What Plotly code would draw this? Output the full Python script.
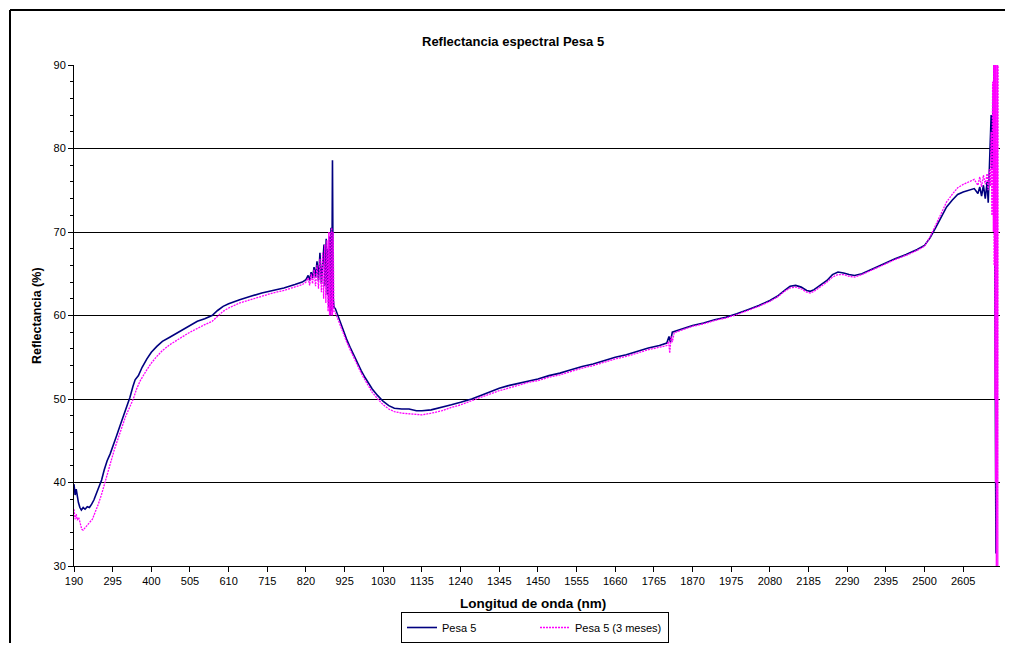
import plotly.graph_objects as go

# ---- data ----
wl_p5 = [190, 193, 196, 199, 202, 206, 210, 215, 220, 226, 232, 238, 244, 250, 258, 265, 272, 280, 288, 295,
         305, 315, 325, 335, 342, 350, 356, 365, 375, 388, 400, 415, 430, 450, 470, 490, 505, 525, 545, 565,
         580, 595, 610, 640, 670, 700, 730, 760, 790, 810, 820, 826, 830, 834, 838, 842, 846, 850, 854, 858,
         862, 866, 869, 872, 875, 878, 880, 882, 884, 886, 888, 890, 892, 894, 896, 900, 910, 920, 930, 940,
         950, 960, 970, 980, 990, 1000, 1015, 1030, 1045, 1060, 1080, 1100, 1120, 1135, 1160, 1190, 1215, 1240, 1270, 1300,
         1325, 1345, 1370, 1400, 1425, 1450, 1480, 1510, 1540, 1570, 1600, 1630, 1660, 1690, 1720, 1750, 1780, 1800, 1806, 1810,
         1815, 1830, 1850, 1870, 1900, 1930, 1960, 1990, 2020, 2050, 2080, 2100, 2120, 2135, 2150, 2165, 2180, 2190, 2200, 2217,
         2235, 2250, 2265, 2280, 2295, 2310, 2330, 2360, 2395, 2420, 2450, 2480, 2500, 2515, 2530, 2545, 2560, 2575, 2590, 2605,
         2620, 2635, 2645, 2650, 2655, 2660, 2665, 2670, 2673, 2676, 2679, 2681, 2683, 2685, 2687, 2689, 2691, 2692, 2693, 2694,
         2695]
r_p5 = [39.8, 38.5, 39.2, 38.0, 37.6, 37.0, 36.7, 37.0, 36.8, 37.1, 37.0, 37.4, 37.9, 38.6, 39.5, 40.3, 41.5, 42.6, 43.4, 44.2,
        45.5, 46.8, 48.0, 49.3, 50.2, 51.5, 52.3, 52.8, 53.8, 54.8, 55.6, 56.3, 56.9, 57.4, 57.9, 58.4, 58.8, 59.3, 59.6, 60.0,
        60.6, 61.1, 61.4, 61.9, 62.3, 62.7, 63.0, 63.3, 63.7, 64.0, 64.3, 64.8, 64.2, 65.2, 64.5, 65.8, 64.6, 66.5, 64.2, 67.5,
        63.8, 66.0, 68.5, 63.5, 69.2, 62.5, 68.0, 61.0, 69.5, 60.0, 70.5, 60.5, 78.6, 62.0, 61.0, 60.8, 59.6, 58.3, 57.2, 56.2,
        55.2, 54.3, 53.4, 52.6, 51.9, 51.2, 50.4, 49.7, 49.2, 48.9, 48.8, 48.8, 48.6, 48.6, 48.7, 49.0, 49.3, 49.6, 50.0, 50.5,
        50.9, 51.3, 51.6, 51.9, 52.2, 52.4, 52.8, 53.1, 53.5, 53.9, 54.2, 54.6, 55.0, 55.3, 55.7, 56.1, 56.4, 56.7, 57.5, 56.8,
        58.0, 58.2, 58.5, 58.8, 59.1, 59.5, 59.8, 60.2, 60.7, 61.2, 61.8, 62.3, 63.0, 63.5, 63.6, 63.4, 63.0, 62.9, 63.1, 63.6,
        64.2, 64.9, 65.2, 65.1, 64.9, 64.8, 65.0, 65.6, 66.3, 66.8, 67.3, 67.9, 68.4, 69.3, 70.5, 71.8, 73.0, 73.8, 74.5, 74.8,
        75.0, 75.2, 74.6, 75.4, 74.3, 75.6, 74.0, 76.0, 73.5, 77.0, 80.0, 84.0, 77.5, 80.5, 86.0, 90.0, 70.0, 66.0, 45.0, 31.5,
        32.0]

wl_p5m = [190, 193, 196, 199, 203, 207, 211, 215, 220, 226, 232, 240, 248, 256, 265, 274, 282, 290, 300, 310,
          320, 330, 340, 351, 360, 370, 385, 400, 415, 430, 450, 470, 490, 505, 525, 545, 565, 580, 595, 610,
          640, 670, 700, 730, 760, 790, 810, 820, 826, 830, 834, 838, 842, 846, 850, 854, 858, 862, 865, 868,
          871, 874, 877, 880, 882, 884, 886, 888, 890, 892, 894, 896, 900, 910, 920, 930, 940, 950, 960, 970,
          980, 990, 1000, 1015, 1030, 1045, 1060, 1080, 1100, 1120, 1135, 1160, 1190, 1215, 1240, 1270, 1300, 1325, 1345, 1370,
          1400, 1425, 1450, 1480, 1510, 1540, 1570, 1600, 1630, 1660, 1690, 1720, 1750, 1780, 1800, 1805, 1808, 1812, 1815, 1820,
          1830, 1850, 1870, 1900, 1930, 1960, 1990, 2020, 2050, 2080, 2100, 2120, 2135, 2150, 2165, 2180, 2190, 2200, 2217, 2235,
          2250, 2265, 2280, 2295, 2310, 2330, 2360, 2395, 2420, 2450, 2480, 2500, 2515, 2530, 2545, 2560, 2575, 2590, 2605, 2620,
          2635, 2645, 2650, 2655, 2660, 2665, 2670, 2673, 2676, 2679, 2681, 2683, 2685, 2687, 2688, 2689, 2690, 2691, 2692, 2693,
          2694, 2695, 2696, 2697, 2698, 2699, 2700]
r_p5m = [36.8, 35.6, 36.2, 35.5, 35.8, 34.9, 34.4, 34.3, 34.6, 34.9, 35.2, 35.6, 36.4, 37.4, 38.6, 40.0, 41.3, 42.6, 44.0, 45.3,
         46.6, 47.9, 48.9, 50.0, 51.2, 52.2, 53.3, 54.3, 55.1, 55.8, 56.5, 57.1, 57.6, 58.0, 58.5, 58.9, 59.3, 59.9, 60.5, 60.9,
         61.5, 61.9, 62.3, 62.7, 63.0, 63.4, 63.7, 64.0, 64.5, 63.6, 65.0, 63.8, 65.5, 63.5, 66.0, 63.2, 66.8, 62.8, 67.5, 62.0,
         68.5, 61.5, 69.0, 60.5, 70.0, 60.0, 70.0, 60.0, 70.5, 60.0, 70.0, 60.5, 60.3, 59.2, 58.0, 56.9, 55.9, 54.9, 54.0, 53.1,
         52.3, 51.5, 50.8, 50.0, 49.3, 48.8, 48.5, 48.3, 48.2, 48.1, 48.1, 48.3, 48.6, 49.0, 49.3, 49.8, 50.3, 50.7, 51.0, 51.3,
         51.7, 52.0, 52.2, 52.6, 52.9, 53.3, 53.7, 54.0, 54.4, 54.8, 55.1, 55.5, 55.9, 56.2, 56.4, 56.9, 55.5, 57.5, 56.8, 57.9,
         58.1, 58.4, 58.7, 59.0, 59.4, 59.7, 60.1, 60.6, 61.1, 61.7, 62.2, 62.9, 63.3, 63.4, 63.2, 62.8, 62.7, 62.9, 63.4, 64.0,
         64.6, 64.9, 64.9, 64.7, 64.6, 64.9, 65.5, 66.2, 66.7, 67.2, 67.8, 68.3, 69.4, 70.8, 72.3, 73.6, 74.5, 75.3, 75.7, 76.0,
         76.3, 75.6, 76.6, 75.4, 76.8, 75.7, 77.0, 75.0, 77.5, 75.5, 82.0, 72.0, 88.0, 70.0, 95.0, 66.0, 95.0, 50.0, 95.0, 40.0,
         95.0, 30.0, 95.0, 30.5, 95.0, 29.8, 95.0]

x_ticks = list(range(190, 2606, 105))
y_ticks = [30, 40, 50, 60, 70, 80, 90]

FONT = "Liberation Sans, Arial, sans-serif"

fig = go.Figure()
fig.add_trace(go.Scatter(x=wl_p5, y=r_p5, mode="lines", name="Pesa 5",
                         line=dict(color="#000080", width=1.6)))
fig.add_trace(go.Scatter(x=wl_p5m, y=r_p5m, mode="lines", name="Pesa 5 (3 meses)",
                         line=dict(color="#FF00FF", width=1.3, dash="2px,1px")))

# page offset of the plot div (browser body margin)
OFF = 8
W, H = 997, 635
L, T = 74 - OFF, 65 - OFF
pw, ph = 926, 501
R = W - L - pw
B = H - T - ph


def px(x):
    """page x pixel -> paper coord"""
    return (x - OFF - L) / pw


def py(y):
    """page y pixel -> paper coord"""
    return (T + ph - (y - OFF)) / ph


fig.update_layout(
    width=W, height=H,
    margin=dict(l=L, r=R, t=T, b=B, autoexpand=False),
    paper_bgcolor="white", plot_bgcolor="white",
    font=dict(family=FONT, size=11, color="black"),
    showlegend=True,
    legend=dict(orientation="h", x=px(535), xanchor="center", y=py(612), yanchor="top",
                bordercolor="black", borderwidth=1, bgcolor="white",
                entrywidth=88, entrywidthmode="pixels",
                font=dict(size=11, family=FONT), tracegroupgap=0),
    xaxis=dict(range=[190, 2705], tickmode="array", tickvals=x_ticks,
               ticktext=[str(v) for v in x_ticks], ticks="outside", ticklen=5,
               tickcolor="black", showline=True, linecolor="black", linewidth=1,
               showgrid=False, zeroline=False, tickfont=dict(size=11)),
    yaxis=dict(range=[30, 90], tickmode="array", tickvals=y_ticks, ticks="outside", ticklen=5,
               tickcolor="black", showline=True, linecolor="black", linewidth=1,
               showgrid=True, gridcolor="black", gridwidth=1, zeroline=False,
               tickfont=dict(size=11),
               minor=dict(dtick=2, ticks="outside", ticklen=3, tickcolor="black", showgrid=False)),
    annotations=[
        dict(text="<b>Reflectancia espectral Pesa 5</b>", x=px(513), y=py(41),
             xref="paper", yref="paper", showarrow=False, xanchor="center",
             yanchor="middle", font=dict(size=13, family=FONT)),
        dict(text="<b>Longitud de onda (nm)</b>", x=px(533), y=py(603),
             xref="paper", yref="paper", showarrow=False, xanchor="center",
             yanchor="middle", font=dict(size=13.5, family=FONT)),
        dict(text="<b>Reflectancia (%)</b>", x=px(37), y=py(316), textangle=-90,
             xref="paper", yref="paper", showarrow=False, xanchor="center",
             yanchor="middle", font=dict(size=12.5, family=FONT)),
    ],
    shapes=[
        dict(type="line", xref="paper", yref="paper", x0=px(10), x1=px(1013), y0=py(10), y1=py(10),
             line=dict(color="black", width=2)),
        dict(type="line", xref="paper", yref="paper", x0=px(10), x1=px(10), y0=py(10), y1=py(651),
             line=dict(color="black", width=2)),
    ],
)

fig.write_html("out.html")
